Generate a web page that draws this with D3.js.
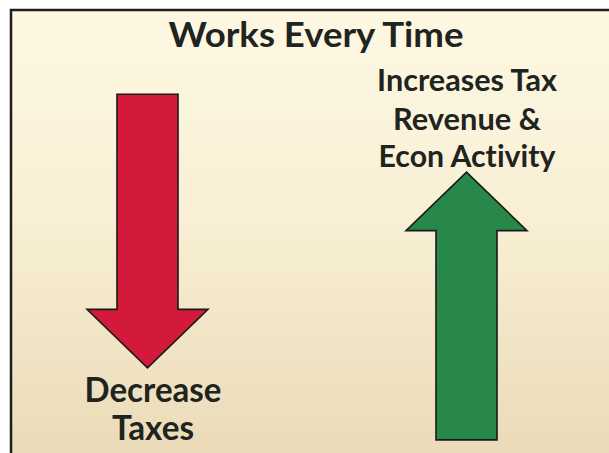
<!DOCTYPE html>
<html>
<head>
<meta charset="utf-8">
<script src="https://cdn.jsdelivr.net/npm/d3@7"></script>
<style>
  html, body { margin: 0; padding: 0; background: #ffffff; }
  svg { display: block; }
  text { font-variant-ligatures: none; font-feature-settings: "liga" 0, "clig" 0; }
</style>
</head>
<body>
<svg id="chart" width="609" height="453"></svg>
<script>
// ---- data ----
const title = "Works Every Time";
const categories = ["Decrease Taxes", "Increases Tax Revenue & Econ Activity"];
const labelLines = [["Decrease", "Taxes"], ["Increases Tax", "Revenue &", "Econ Activity"]];
const arrowStart = [79.2, 2.9];   // value where each arrow's tail sits
const arrowEnd   = [18.8, 62.0];  // value where each arrow's tip points
const arrowColors = ["#d31a3b", "#27884a"];

// ---- layout ----
const W = 609, H = 453;
const svg = d3.select("#chart");

const defs = svg.append("defs");
const grad = defs.append("linearGradient").attr("id", "bg").attr("x1", 0).attr("y1", 0).attr("x2", 0).attr("y2", 1);
grad.append("stop").attr("offset", "0%").attr("stop-color", "#fef8e3");
grad.append("stop").attr("offset", "45%").attr("stop-color", "#f8efd4");
grad.append("stop").attr("offset", "100%").attr("stop-color", "#e9d8b4");

// panel
svg.append("rect").attr("x", 11).attr("y", 10).attr("width", W + 20).attr("height", H + 20)
  .attr("fill", "url(#bg)").attr("stroke", "#1e1e1e").attr("stroke-width", 2.5);

const x = d3.scalePoint().domain(categories).range([147.5, 466.5]);
const y = d3.scaleLinear().domain([0, 100]).range([H, 0]);

const shaftW = 61, headW = 121, headL = 58.5;

function arrowPath(cx, y0, y1) {
  const dir = y1 > y0 ? 1 : -1;
  const yb = y1 - dir * headL;
  const p = d3.path();
  p.moveTo(cx - shaftW / 2, y0);
  p.lineTo(cx + shaftW / 2, y0);
  p.lineTo(cx + shaftW / 2, yb);
  p.lineTo(cx + headW / 2, yb);
  p.lineTo(cx, y1);
  p.lineTo(cx - headW / 2, yb);
  p.lineTo(cx - shaftW / 2, yb);
  p.closePath();
  return p.toString();
}

svg.selectAll("path.arrow").data(categories).join("path")
  .attr("class", "arrow")
  .attr("d", (c, i) => arrowPath(x(c), y(arrowStart[i]), y(arrowEnd[i])))
  .attr("fill", (c, i) => arrowColors[i])
  .attr("stroke", "#1a1a1a").attr("stroke-width", 1.6).attr("stroke-linejoin", "miter");

const FONT = "Lato, 'Open Sans', sans-serif";
// place text at (cx, by) with given font-size, squeezed horizontally to targetW
function placeText(str, cx, by, fs, targetW) {
  const g = svg.append("g");
  const tx = g.append("text").text(str).attr("x", 0).attr("y", 0)
    .attr("text-anchor", "middle").attr("font-family", FONT).attr("font-weight", 700)
    .attr("font-size", fs).attr("fill", "#1f2420");
  const w = tx.node().getComputedTextLength();
  const sx = Math.min(1.05, targetW / w);
  g.attr("transform", `translate(${cx},${by}) scale(${sx},1)`);
  return g;
}

placeText(title, 316, 47, 35, 295);

const labelCfg = [
  { dx: 5.5, fs: 35, baselines: [402, 440], widths: [137, 82] },
  { dx: 0.5, fs: 30, baselines: [91, 130, 167], widths: [180, 148, 177] }
];
categories.forEach((c, i) => {
  const cfg = labelCfg[i];
  labelLines[i].forEach((line, j) => {
    placeText(line, x(c) + cfg.dx, cfg.baselines[j], cfg.fs, cfg.widths[j]);
  });
});
</script>
</body>
</html>
